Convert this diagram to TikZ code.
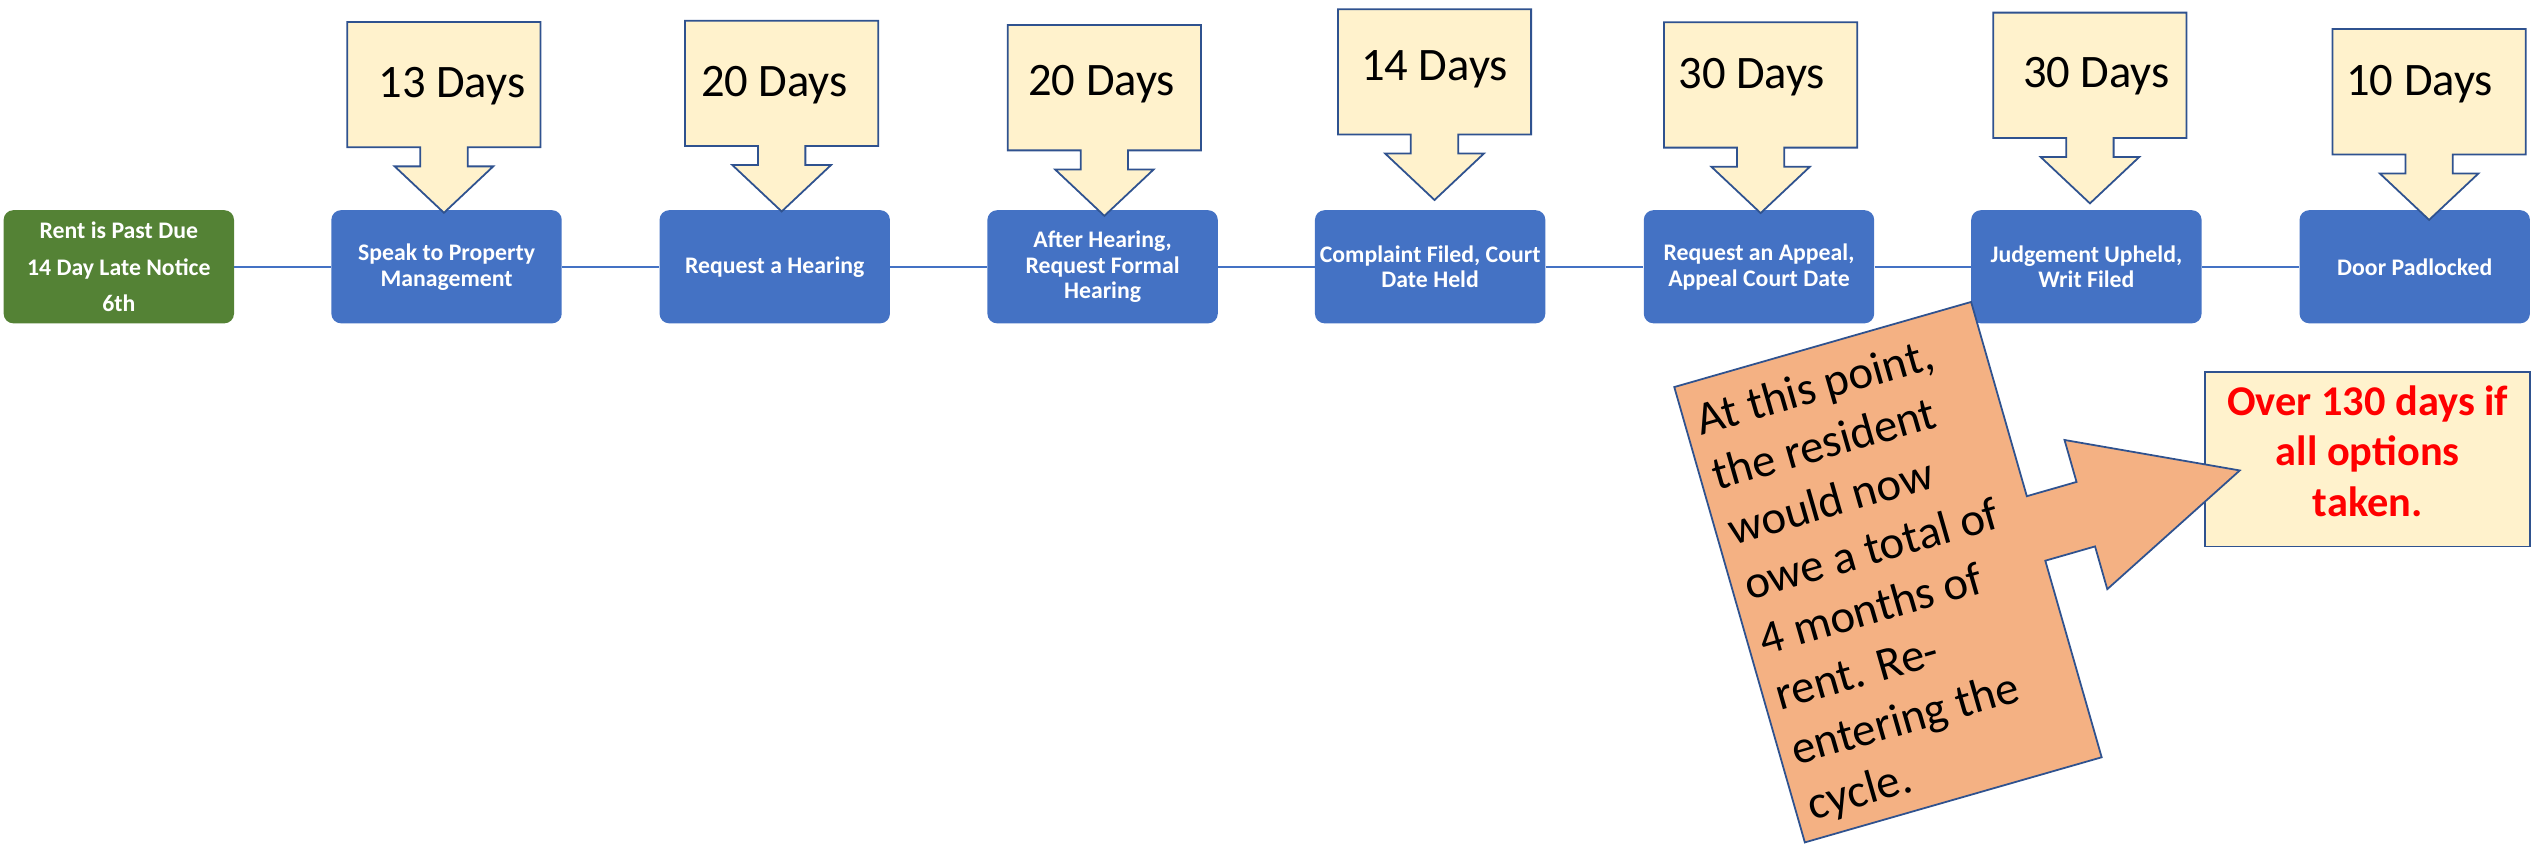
\documentclass[tikz,border=0pt]{standalone}
\usepackage{fontspec}
\setmainfont{Carlito}
\definecolor{boxblue}{HTML}{4472C4}
\definecolor{boxgreen}{HTML}{548235}
\definecolor{coline}{HTML}{2F528F}
\definecolor{cofill}{HTML}{FFF2CC}
\definecolor{orfill}{HTML}{F4B183}
\definecolor{redtxt}{HTML}{FF0000}
\tikzset{
  stepbox/.style={rectangle, rounded corners=6pt, minimum width=142.5pt, minimum height=70pt,
    inner sep=2pt, align=center, text=white, fill=boxblue,
    font=\fontsize{14.7}{16}\selectfont\bfseries},
  startbox/.style={stepbox, fill=boxgreen, font=\fontsize{14.7}{22.5}\selectfont\bfseries},
  conn/.style={draw=boxblue, line width=1.3pt},
  coshape/.style={draw=coline, fill=cofill, line width=1.1pt, line join=miter},
  daystext/.style={inner sep=0pt, font=\fontsize{28.8}{34}\selectfont},
  totalbox/.style={rectangle, draw=coline, fill=cofill, line width=1.1pt, minimum width=201pt,
    minimum height=108pt, align=center, text=redtxt, inner sep=2pt,
    font=\fontsize{26.2}{31}\selectfont\bfseries},
  orshape/.style={draw=coline, fill=orfill, line width=1.1pt, line join=miter},
}
% callout: #1 name, #2 centre x, #3 top y, #4 text dx, #5 text baseline offset, #6 label
\newcommand\dayco[6]{%
  \draw[coshape] ({#2-59.75},{#3}) -- ({#2+59.75},{#3}) -- ({#2+59.75},{#3+77.5})
    -- ({#2+14.65},{#3+77.5}) -- ({#2+14.65},{#3+89.3}) -- ({#2+30.5},{#3+89.3})
    -- ({#2},{#3+118}) -- ({#2-30.5},{#3+89.3}) -- ({#2-14.65},{#3+89.3})
    -- ({#2-14.65},{#3+77.5}) -- ({#2-59.75},{#3+77.5}) -- cycle;
  \node[daystext, anchor=base] (#1) at ({#2+#4},{#3+#5}) {#6};}
\begin{document}
\begin{tikzpicture}[x=1pt, y=-1pt]
\useasboundingbox (0,0) rectangle (1568,525.8);
% steps
\node[startbox] (b0) at (73.5,165) {Rent is Past Due\\14 Day Late Notice\\6th};
\node[stepbox] (b1) at (276.2,165) {Speak to Property\\Management};
\node[stepbox] (b2) at (479.2,165) {Request a Hearing};
\node[stepbox] (b3) at (682,165) {After Hearing,\\Request Formal\\Hearing};
\node[stepbox] (b4) at (884.6,165) {Complaint Filed, Court\\Date Held};
\node[stepbox] (b5) at (1088,165) {Request an Appeal,\\Appeal Court Date};
\node[stepbox] (b6) at (1290.5,165) {Judgement Upheld,\\Writ Filed};
\node[stepbox] (b7) at (1493.6,165) {Door Padlocked};
\foreach \a/\b in {b0/b1,b1/b2,b2/b3,b3/b4,b4/b5,b5/b6,b6/b7}
  \draw[conn] (\a) -- (\b);
% day callouts
\dayco{d1}{274.6}{13.6}{4.9}{46.4}{13 Days}
\dayco{d2}{483.5}{12.8}{-4.5}{47}{20 Days}
\dayco{d3}{683.1}{15.5}{-1.7}{43.7}{20 Days}
\dayco{d4}{887.3}{5.7}{0}{44.3}{14 Days}
\dayco{d5}{1089}{13.8}{-5.5}{40.9}{30 Days}
\dayco{d6}{1292.7}{7.8}{4}{46.2}{30 Days}
\dayco{d7}{1502.5}{18}{-5.9}{40.8}{10 Days}
% total box
\node[totalbox] (total) at (1464.5,284) {Over 130 days if\\all options\\taken.\rule[-10pt]{0pt}{0pt}};
% rotated right-arrow callout
\begin{scope}[shift={(1035.6,239.4)}, rotate=16]
  \draw[orshape] (0,0) -- (191,0) -- (191,125) -- (223,125) -- (223,98) -- (322,146)
    -- (223,194) -- (223,166.5) -- (191,166.5) -- (191,293) -- (0,293) -- cycle;
  \node[anchor=north west, inner sep=0pt, align=left, rotate=16,
    font=\fontsize{29}{35.4}\selectfont] (note) at (8,13)
    {At this point,\\the resident\\would now\\owe a total of\\4 months of\\rent. Re-\\entering the\\cycle.};
\end{scope}
\end{tikzpicture}
\end{document}
